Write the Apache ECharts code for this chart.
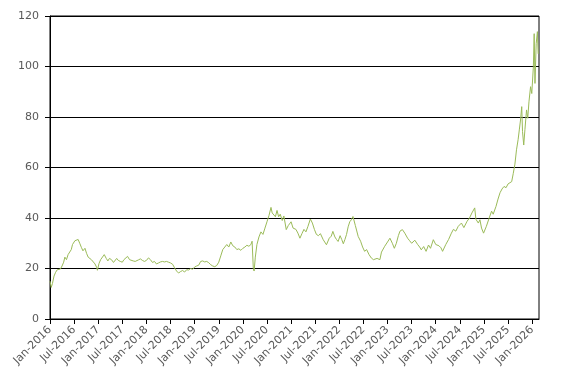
<!DOCTYPE html>
<html>
<head>
<meta charset="utf-8">
<script src="https://cdn.jsdelivr.net/npm/echarts@6/dist/echarts.min.js"></script>
<style>html,body{margin:0;padding:0;background:#fff;}#c{width:567px;height:383px;}</style>
</head>
<body>
<div id="c"></div>
<script>
var dates = ["2016-01-01","2016-01-10","2016-01-19","2016-02-01","2016-02-13","2016-02-25","2016-03-07","2016-03-19","2016-04-01","2016-04-13","2016-04-22","2016-05-04","2016-05-16","2016-05-28","2016-06-10","2016-06-19","2016-06-28","2016-07-07","2016-07-19","2016-08-01","2016-08-13","2016-08-25","2016-09-07","2016-09-22","2016-10-04","2016-10-16","2016-10-28","2016-11-10","2016-11-22","2016-12-07","2016-12-19","2016-12-25",
"2017-01-07","2017-01-19","2017-02-01","2017-02-16","2017-03-01","2017-03-13","2017-03-25","2017-04-10","2017-04-25","2017-05-07","2017-05-19","2017-06-01","2017-06-16","2017-07-01","2017-07-13","2017-07-25","2017-08-10","2017-08-25","2017-09-07","2017-09-22","2017-10-07","2017-10-19","2017-11-01","2017-11-16","2017-12-01","2017-12-16",
"2018-01-01","2018-01-16","2018-02-01","2018-02-16","2018-03-01","2018-03-16","2018-04-01","2018-04-16","2018-05-01","2018-05-16","2018-06-01","2018-06-16","2018-07-01","2018-07-16","2018-08-01","2018-08-16","2018-09-01","2018-09-16","2018-10-01","2018-10-16","2018-11-01","2018-11-16","2018-12-01","2018-12-16",
"2019-01-01","2019-01-16","2019-02-01","2019-02-16","2019-03-01","2019-03-16","2019-04-01","2019-04-16","2019-05-01","2019-05-16","2019-06-01","2019-06-16","2019-07-01","2019-07-16","2019-08-01","2019-08-16","2019-09-01","2019-09-16","2019-10-01","2019-10-16","2019-11-01","2019-11-16","2019-12-01","2019-12-16",
"2020-01-01","2020-01-16","2020-02-01","2020-02-16","2020-03-01","2020-03-10","2020-03-19","2020-03-25","2020-04-04","2020-04-16","2020-05-01","2020-05-16","2020-06-01","2020-06-16","2020-07-01","2020-07-16","2020-08-01","2020-08-10","2020-08-22","2020-09-04","2020-09-16","2020-09-28","2020-10-10","2020-10-25","2020-11-07","2020-11-25","2020-12-10",
"2021-01-01","2021-01-16","2021-02-07","2021-02-22","2021-03-07","2021-03-22","2021-04-07","2021-04-22","2021-05-07","2021-05-25","2021-06-10","2021-06-25","2021-07-10","2021-07-25","2021-08-10","2021-09-01","2021-09-25","2021-10-16","2021-11-01","2021-11-13","2021-11-28","2021-12-10","2021-12-22",
"2022-01-07","2022-01-19","2022-02-01","2022-02-13","2022-02-25","2022-03-07","2022-03-19","2022-04-01","2022-04-13","2022-05-01","2022-05-22","2022-06-10","2022-06-25","2022-07-10","2022-07-25","2022-08-13","2022-09-01","2022-09-16","2022-09-28","2022-10-13","2022-11-04","2022-11-16","2022-12-10",
"2023-01-01","2023-01-19","2023-02-07","2023-02-22","2023-03-07","2023-03-22","2023-04-04","2023-04-22","2023-05-10","2023-06-01","2023-06-16","2023-07-01","2023-07-25","2023-08-16","2023-09-01","2023-09-13","2023-10-01","2023-10-19","2023-11-07","2023-11-22","2023-12-13",
"2024-01-01","2024-01-25","2024-02-10","2024-02-22","2024-03-01","2024-03-16","2024-04-07","2024-04-28","2024-05-13","2024-06-01","2024-06-19","2024-07-13","2024-08-01","2024-08-25","2024-09-13","2024-10-01","2024-10-13","2024-10-22","2024-11-01","2024-11-19","2024-12-01","2024-12-13","2024-12-28",
"2025-01-19","2025-02-10","2025-02-28","2025-03-10","2025-04-01","2025-04-16","2025-05-01","2025-05-16","2025-06-01","2025-06-16","2025-07-01","2025-07-13","2025-07-28","2025-08-10","2025-08-22","2025-09-04","2025-09-16","2025-09-25","2025-10-04","2025-10-13","2025-10-19","2025-10-28","2025-11-07","2025-11-19","2025-11-28","2025-12-07","2025-12-19","2025-12-28",
"2026-01-10","2026-01-16","2026-01-22","2026-02-01","2026-02-10","2026-02-16"];

var values = [15.0,12.5,14,17,18.5,19.5,20.2,19.8,21,22.5,24.5,23.5,25.5,24.8,27.5,29.5,30.0,31.0,30.5,31.5,30,28.4,27,28,26,24.5,25,23.5,24.2,21.8,20.5,19.3,
22,23.5,24,25.5,24,23,24,23.5,22.4,23,24,23.2,22.8,22.5,23.5,23.8,24.8,23.5,23.8,23,22.8,23.5,23.4,23.8,23.2,22.8,
23.2,24.2,23.5,22.4,22.8,21.8,22.2,22.6,22.8,22.6,22.8,22.5,22.2,21.7,20.3,19.0,18.2,18.8,19.2,18.6,19.5,19.4,20.0,19.7,
20.6,21.0,21.3,22.8,23.0,22.6,22.8,22.3,21.5,21.0,20.7,21.2,22.5,25,27.5,28.5,29.5,28.5,30.5,29,28.5,27.5,27.8,27.2,
28,28.5,29.2,28.8,29.5,30.8,20.0,19.0,24.5,29.5,32.5,34.5,33.5,36,38.5,41,44.2,42,42.5,40.5,43,40.5,41.5,39.0,40.8,35.4,37,
38.5,36,35.5,34.0,32.0,33.8,35.5,34.5,36.7,39.6,38,35.5,33.5,33,33.8,31.4,29.4,32,32.8,34.7,32.5,31.5,30.7,
33,31.5,29.8,31.5,33.5,36.5,38.5,39.3,40.6,37,32.7,30.8,28.5,26.8,27.5,25.5,24.1,23.5,22.8,24.0,23.5,26.5,28.8,
30.5,32,30,28.0,30,33,34.8,35.4,34.0,32,31,30.0,31.2,29.5,28.5,27.4,28.7,26.8,29.3,28,31.4,
29.5,29.0,28.2,26.8,26.1,29.5,31.5,34.0,35.5,34.8,36.7,38.0,36.2,38.7,40,42,41.5,44,39.5,38,39.3,36.0,34.0,
36.7,40,42.7,41.5,44.6,47.5,50,51.5,52.5,52,53.5,54,54.4,57.7,61.3,67,71,74.9,78.8,84.1,74.2,68.9,75,82.8,79.5,86,92,89.3,
99.9,113,93.3,109,113.8,105];

var yTicks = [0, 20, 40, 60, 80, 100, 120];
var xTickLabels = ["Jan-2016","Jul-2016","Jan-2017","Jul-2017","Jan-2018","Jul-2018","Jan-2019","Jul-2019","Jan-2020","Jul-2020","Jan-2021","Jul-2021","Jan-2022","Jul-2022","Jan-2023","Jul-2023","Jan-2024","Jul-2024","Jan-2025","Jul-2025","Jan-2026"];

function monthIndex(s) {
  var p = s.split('-');
  return (parseInt(p[0], 10) - 2016) * 12 + (parseInt(p[1], 10) - 1) + (parseInt(p[2], 10) - 1) / 30;
}
var seriesData = dates.map(function (d, i) { return [monthIndex(d), values[i]]; });
var xTickPos = xTickLabels.map(function (l, i) { return i * 6; });

var chart = echarts.init(document.getElementById('c'), null, {renderer: 'canvas'});
chart.setOption({
  animation: false,
  backgroundColor: '#fff',
  grid: {left: 50, right: 28, top: 16, bottom: 64, show: true, borderColor: '#000', borderWidth: 1, backgroundColor: 'transparent'},
  xAxis: {
    type: 'value', min: 0, max: 121.7,
    axisLine: {show: true, lineStyle: {color: '#000', width: 1}},
    axisTick: {show: true, length: 5, customValues: xTickPos, lineStyle: {color: '#000'}},
    axisLabel: {
      customValues: xTickPos, rotate: 45, margin: 9, color: '#595959',
      fontFamily: 'DejaVu Sans', fontSize: 11,
      formatter: function (v) { var i = Math.round(v / 6); return xTickLabels[i] || ''; }
    },
    splitLine: {show: false}
  },
  yAxis: {
    type: 'value', min: yTicks[0], max: yTicks[yTicks.length - 1], interval: 20,
    axisLine: {show: true, lineStyle: {color: '#000', width: 1}},
    axisTick: {show: true, length: 5, lineStyle: {color: '#000'}},
    axisLabel: {margin: 11, color: '#595959', fontFamily: 'DejaVu Sans', fontSize: 11},
    splitLine: {show: true, lineStyle: {color: '#000', width: 1}}
  },
  series: [{
    type: 'line', data: seriesData, showSymbol: false, symbol: 'none',
    lineStyle: {color: '#9BBB59', width: 1}, itemStyle: {color: '#9BBB59'}
  }]
});
</script>
</body>
</html>
